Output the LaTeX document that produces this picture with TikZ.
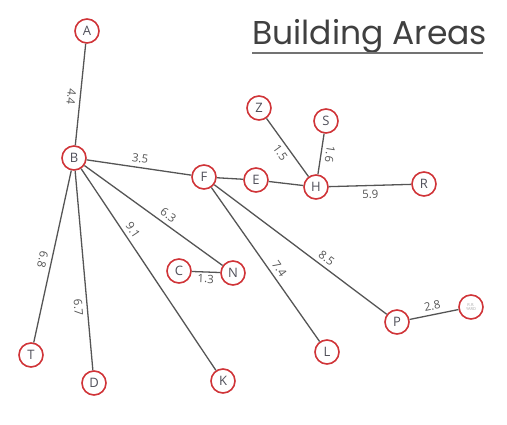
\documentclass[tikz,border=0pt]{standalone}
\usepackage{fontspec}
\setmainfont{Open Sans}
\newfontfamily\titlefont{Poppins}
\definecolor{ringred}{RGB}{208,52,56}
\definecolor{edgegray}{RGB}{85,85,85}
\definecolor{lettergray}{RGB}{80,80,90}
\tikzset{
  area/.style={circle, draw=ringred, line width=1.6pt, fill=white,
    minimum size=24pt, inner sep=0pt, text=lettergray,
    font=\fontsize{13}{13}\selectfont},
  link/.style={draw=edgegray, line width=1.3pt},
  dist/.style={sloped, allow upside down, inner sep=4pt, text=edgegray,
    font=\fontsize{11.5}{11.5}\selectfont}
}
\begin{document}
\begin{tikzpicture}[x=1pt, y=-1pt]
\useasboundingbox (0,0) rectangle (507,424);

% title
\node[anchor=base west, inner sep=0pt, text=black!75,
  font=\titlefont\fontsize{33}{33}\selectfont] (title) at (252,44) {Building Areas};
\draw[black!55, line width=1.4pt] (252,53) -- (483,53);

% areas
\node[area] (A) at (87,31) {A};
\node[area] (B) at (74,158) {B};
\node[area] (F) at (204,177) {F};
\node[area] (E) at (256,180) {E};
\node[area] (H) at (316,187) {H};
\node[area] (Z) at (259,108) {Z};
\node[area] (S) at (326,121) {S};
\node[area] (R) at (424,184) {R};
\node[area] (C) at (179,271) {C};
\node[area] (N) at (233,273) {N};
\node[area] (P) at (397,322) {P};
\node[area, text=black!35, font=\fontsize{4}{4.5}\selectfont, align=center] (Y) at (471,307) {R.R.\\YARD};
\node[area] (L) at (327,352) {L};
\node[area] (T) at (31,355) {T};
\node[area] (D) at (94,383) {D};
\node[area] (K) at (223,381) {K};

% connections with distances
\path[link] (A) -- node[dist, below, pos=0.53] {4.4} (B);
\path[link] (B) -- node[dist, above, pos=0.5] {3.5} (F);
\path[link] (B) -- node[dist, below, pos=0.53] {6.8} (T);
\path[link] (B) -- node[dist, below, pos=0.68] {6.7} (D);
\path[link] (B) -- node[dist, above, pos=0.33] {9.1} (K);
\path[link] (B) -- node[dist, above, pos=0.57] {6.3} (N);
\path[link] (C) -- node[dist, below, inner sep=2pt] {1.3} (N);
\path[link] (F) -- (E);
\path[link] (E) -- (H);
\path[link] (Z) -- node[dist, below, pos=0.5] {1.5} (H);
\path[link] (S) -- node[dist, above, pos=0.47] {1.6} (H);
\path[link] (H) -- node[dist, below] {5.9} (R);
\path[link] (F) -- node[dist, above, pos=0.56] {7.4} (L);
\path[link] (F) -- node[dist, above, pos=0.62] {8.5} (P);
\path[link] (P) -- node[dist, above] {2.8} (Y);
\end{tikzpicture}
\end{document}
